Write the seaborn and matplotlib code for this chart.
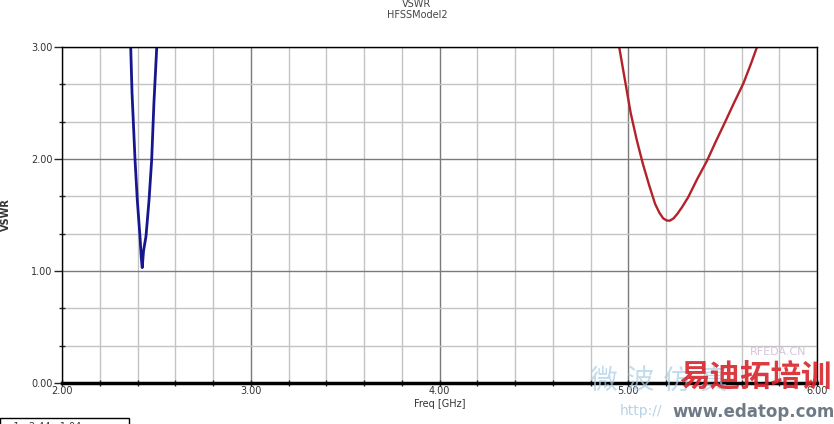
import numpy as np
import pandas as pd
import seaborn as sns
import matplotlib.pyplot as plt
from matplotlib.patches import Rectangle
from matplotlib.ticker import MultipleLocator, FormatStrFormatter

# Curve values (freq in GHz, VSWR)
band1_freq = [2.350, 2.364, 2.371, 2.387, 2.399, 2.413, 2.420, 2.425, 2.432, 2.445, 2.461, 2.475, 2.487, 2.502, 2.515]
band1_vswr = [3.35, 3.00, 2.59, 1.99, 1.63, 1.31, 1.12, 1.03, 1.18, 1.31, 1.63, 1.99, 2.50, 3.00, 3.40]

band2_freq = [4.93, 4.953, 4.985, 5.013, 5.045, 5.077, 5.110, 5.142, 5.165, 5.185, 5.205, 5.221,
              5.240, 5.260, 5.285, 5.318, 5.365, 5.416, 5.465, 5.513, 5.560, 5.610, 5.650, 5.680, 5.72]
band2_vswr = [3.20, 2.99, 2.68, 2.41, 2.17, 1.96, 1.77, 1.60, 1.52, 1.47, 1.45, 1.45,
              1.47, 1.51, 1.57, 1.66, 1.82, 1.98, 2.16, 2.33, 2.50, 2.675, 2.85, 2.99, 3.15]

title_lines = ["VSWR", "HFSSModel2"]
x_label = "Freq [GHz]"
y_label = "VSWR"

df1 = pd.DataFrame({"freq": band1_freq, "vswr": band1_vswr})
df2 = pd.DataFrame({"freq": band2_freq, "vswr": band2_vswr})

sns.set_style("white")
plt.rcParams["font.family"] = ["DejaVu Sans", "Noto Sans CJK SC"]

fig = plt.figure(figsize=(8.34, 4.24), dpi=100)
ax = fig.add_axes([62 / 834, 1 - 383 / 424, (817 - 62) / 834, (383 - 47) / 424])

sns.lineplot(data=df1, x="freq", y="vswr", ax=ax, color="#16168f", lw=2, sort=False)
sns.lineplot(data=df2, x="freq", y="vswr", ax=ax, color="#b3222a", lw=1.7, sort=False)

ax.set_xlim(2.0, 6.0)
ax.set_ylim(0.0, 3.0)
ax.xaxis.set_major_locator(MultipleLocator(1.0))
ax.xaxis.set_minor_locator(MultipleLocator(0.2))
ax.yaxis.set_major_locator(MultipleLocator(1.0))
ax.yaxis.set_minor_locator(MultipleLocator(1 / 3))
ax.xaxis.set_major_formatter(FormatStrFormatter("%.2f"))
ax.yaxis.set_major_formatter(FormatStrFormatter("%.2f"))

# grid: darker major lines, light minor lines
ax.grid(which="major", color="#7a7a7a", lw=1)
ax.grid(which="minor", color="#c4c4c4", lw=1)
ax.set_axisbelow(True)

for s in ["left", "top", "right"]:
    ax.spines[s].set_color("black")
    ax.spines[s].set_linewidth(1)
ax.spines["bottom"].set_color("black")
ax.spines["bottom"].set_linewidth(2.5)

ax.tick_params(axis="y", which="major", direction="out", length=6, width=1, labelsize=7,
               labelcolor="#333333", pad=1, left=True)
ax.tick_params(axis="y", which="minor", direction="inout", length=4, width=1, left=True)
ax.tick_params(axis="x", which="major", direction="inout", length=5, width=1, labelsize=7,
               labelcolor="#333333", pad=0, bottom=True)
ax.tick_params(axis="x", which="minor", direction="inout", length=4, width=1, bottom=True)

ax.set_xlabel(x_label, fontsize=7, color="#333333", labelpad=2)
ax.set_ylabel(y_label, fontsize=7, fontweight="bold", color="#333333", labelpad=14)

fig.text(0.5, 1 - 4 / 424, title_lines[0], ha="center", va="center", fontsize=7, color="#444444")
fig.text(0.5, 1 - 15 / 424, title_lines[1], ha="center", va="center", fontsize=7, color="#444444")

# marker table box, cut off at the bottom edge
fig.add_artist(Rectangle((0, -0.01), 129 / 834, 0.01 + 6 / 424, transform=fig.transFigure,
                         fill=False, lw=1, edgecolor="black"))
fig.text(4 / 834, -0.006, "m1   2.44   1.04", fontsize=7, color="#333333", va="center")

# watermark
fig.text(590 / 834, 1 - 382 / 424, "微 波 仿 真", fontsize=20, color="#a9cde6", alpha=0.7, va="center")
fig.text(679 / 834, 1 - 378 / 424, "易迪拓培训", fontsize=22, color="#d8262b", alpha=0.9,
         fontweight="bold", va="center")
fig.text(750 / 834, 1 - 352 / 424, "RFEDA.CN", fontsize=8, color="#d6c3dc", va="center")
fig.text(620 / 834, 1 - 411 / 424, "http://", fontsize=10, color="#b7d3e8", va="center")
fig.text(672 / 834, 1 - 412 / 424, "www.edatop.com", fontsize=12, color="#6e7b86", fontweight="bold", va="center")

fig.savefig("out.png", dpi=100)
